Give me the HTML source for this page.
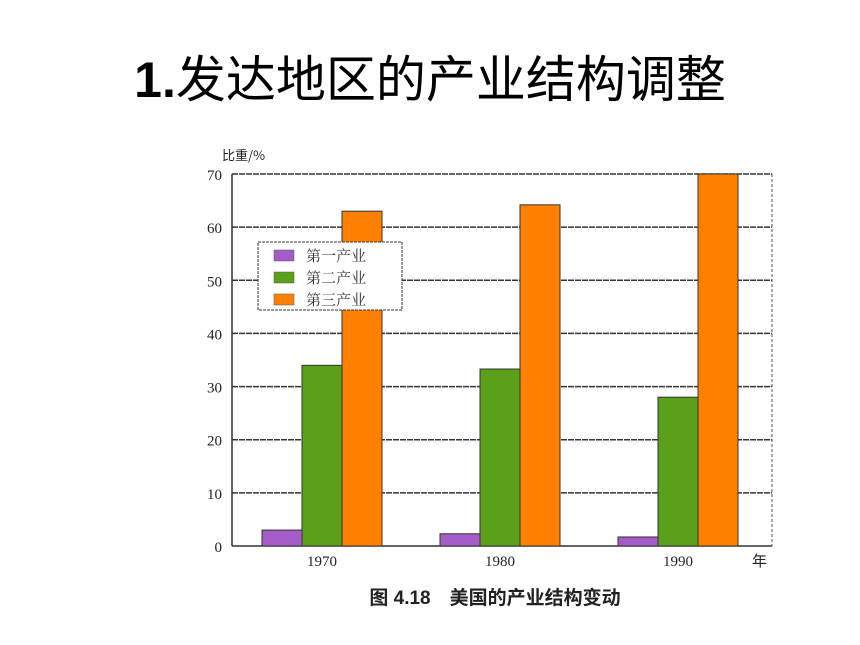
<!DOCTYPE html>
<html><head><meta charset="utf-8"><style>
body{margin:0;width:860px;height:645px;background:#fff;overflow:hidden;position:relative;font-family:"Liberation Sans","Noto Sans CJK SC",sans-serif}
#title{position:absolute;left:0;width:860px;top:50px;text-align:center;font-size:50px;line-height:60px;color:#000}
#title b{font-weight:bold}
svg{position:absolute;left:0;top:0}
</style></head><body>
<div id="title"><b>1.</b>发达地区的产业结构调整</div>
<svg id="chart" width="860" height="645"></svg>
<script>
const categories=["1970","1980","1990"];
const primary=[3,2.3,1.7];
const secondary=[34,33.3,28];
const tertiary=[63,64.2,70];
const yTicks=[0,10,20,30,40,50,60,70];
const seriesNames=["第一产业","第二产业","第三产业"];
const colors=["#a45cc8","#5aa01a","#ff8000"];
const svg=document.getElementById('chart');
const NS='http://www.w3.org/2000/svg';
const L=232,R=772,Y0=546,Y70=174;
const y=v=>Y0-(v/70)*(Y0-Y70);
const groupX=i=>262+i*178;
function mk(t,a,p){const e=document.createElementNS(NS,t);for(const k in a)e.setAttribute(k,a[k]);(p||svg).appendChild(e);return e;}
// grid
yTicks.forEach(v=>{
 const l=mk('line',{x1:L,x2:R,y1:y(v),y2:y(v),stroke:'#333','stroke-width':1.5,'stroke-dasharray':v===0?'':'6,1'});
 
 
 const t=mk('text',{x:222,y:y(v)+6,'text-anchor':'end','font-size':15,'font-family':'Liberation Serif,serif',fill:'#222'});
 t.textContent=v;
 
 
});
const ax=mk('line',{x1:L,x2:L,y1:Y70,y2:Y0,stroke:'#333','stroke-width':1.5});


const rx=mk('line',{x1:R,x2:R,y1:Y70,y2:Y0,stroke:'#555','stroke-width':1,'stroke-dasharray':'3,2'});


const series=[primary,secondary,tertiary];
categories.forEach((c,i)=>{
 series.forEach((s,j)=>{
  const x=groupX(i)+j*40;
  const r=mk('rect',{x:x,y:y(s[i]),width:40,height:Y0-y(s[i]),fill:colors[j],stroke:'#333','stroke-width':1});
  
  
 });
 const t=mk('text',{x:groupX(i)+60,y:566,'text-anchor':'middle','font-size':15,'font-family':'Liberation Serif,serif',fill:'#222'});
 t.textContent=c;
 
 
});
const yl=mk('text',{x:222,y:160,'font-size':13,fill:'#222','font-family':'Noto Sans CJK SC,sans-serif'});
yl.textContent='比重/%';


const xl=mk('text',{x:752,y:566,'font-size':15,fill:'#222','font-family':'Noto Sans CJK SC,sans-serif'});
xl.textContent='年';


// legend
const lg=mk('g',{});


mk('rect',{x:258,y:242,width:144,height:68,fill:'#fff',stroke:'#333','stroke-width':1,'stroke-dasharray':'3,1'},lg);
seriesNames.forEach((n,j)=>{
 const g=mk('g',{},lg);
 
 
 mk('rect',{x:274,y:250+j*22,width:20,height:11,fill:colors[j],stroke:'#555','stroke-width':0.5},g);
 const t=mk('text',{x:306,y:261+j*22,'font-size':15,fill:'#333','font-family':'Noto Serif CJK SC,serif'},g);
 t.textContent=n;
});
const cap=mk('text',{x:495,y:604,'text-anchor':'middle','font-size':19,'font-weight':'bold',fill:'#222','font-family':'Liberation Sans,Noto Sans CJK SC,sans-serif'});
cap.textContent='图 4.18　美国的产业结构变动';


</script>
</body></html>
